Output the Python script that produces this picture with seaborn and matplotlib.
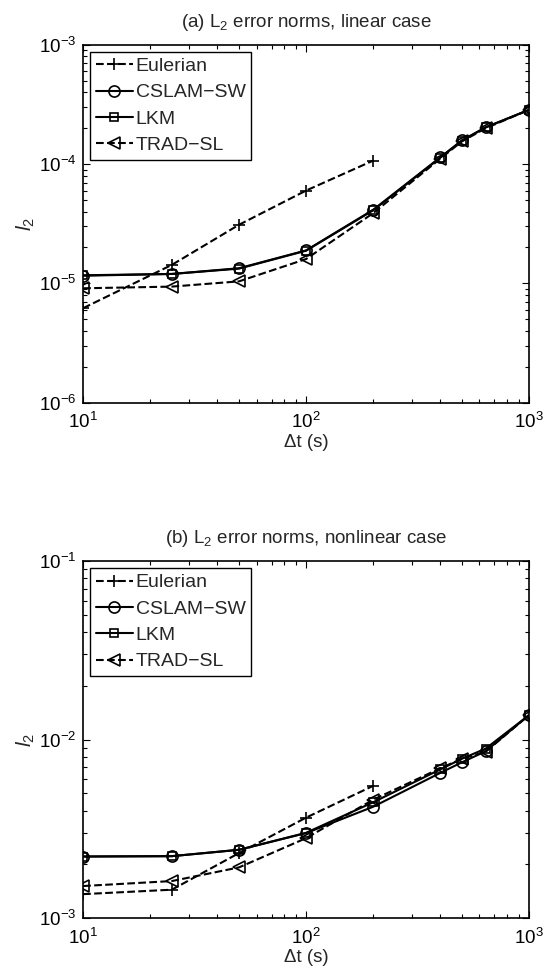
import matplotlib
matplotlib.use("Agg")
import matplotlib.pyplot as plt
from matplotlib.ticker import LogLocator, NullFormatter
import numpy as np
import seaborn as sns

# time steps (s)
dt_euler = [10, 25, 50, 100, 200]
dt_all = [10, 25, 50, 100, 200, 400, 500, 640, 1000]

# (a) linear case, l2 errors
lin_euler = [6.2e-6, 1.43e-5, 3.1e-5, 6.0e-5, 1.07e-4]
lin_cslam = [1.16e-5, 1.2e-5, 1.34e-5, 1.89e-5, 4.14e-5, 1.14e-4, 1.58e-4, 2.04e-4, 2.85e-4]
lin_lkm = [1.17e-5, 1.2e-5, 1.33e-5, 1.88e-5, 4.1e-5, 1.13e-4, 1.57e-4, 2.03e-4, 2.85e-4]
lin_trad = [9.1e-6, 9.4e-6, 1.04e-5, 1.6e-5, 3.88e-5, 1.11e-4, 1.55e-4, 2.0e-4, 2.85e-4]

# (b) nonlinear case, l2 errors
nl_euler = [1.36e-3, 1.44e-3, 2.31e-3, 3.65e-3, 5.5e-3]
nl_cslam = [2.21e-3, 2.22e-3, 2.41e-3, 2.99e-3, 4.2e-3, 6.5e-3, 7.45e-3, 8.6e-3, 1.37e-2]
nl_lkm = [2.21e-3, 2.22e-3, 2.41e-3, 3.0e-3, 4.45e-3, 6.8e-3, 7.8e-3, 8.9e-3, 1.37e-2]
nl_trad = [1.51e-3, 1.61e-3, 1.92e-3, 2.8e-3, 4.6e-3, 6.9e-3, 7.8e-3, 8.55e-3, 1.37e-2]

labels = ["Eulerian", "CSLAM\u2212SW", "LKM", "TRAD\u2212SL"]
markers = ["+", "o", "s", "<"]
styles = ["--", "-", "-", "--"]

sns.set_style("ticks")
plt.rcParams["font.family"] = ["Liberation Sans", "DejaVu Sans"]
plt.rcParams["mathtext.fontset"] = "custom"
plt.rcParams["mathtext.rm"] = "Liberation Sans"
plt.rcParams["mathtext.it"] = "Liberation Sans:italic"

fig = plt.figure(figsize=(5.47, 9.75), dpi=100)
ax1 = fig.add_axes([0.152, 0.587, 0.815, 0.367])
ax2 = fig.add_axes([0.152, 0.0585, 0.815, 0.366])


def draw(ax, series, ylim, title):
    xs = [dt_euler, dt_all, dt_all, dt_all]
    for x, y, lab, m, ls in zip(xs, series, labels, markers, styles):
        sns.lineplot(x=x, y=y, ax=ax, color="k", linestyle=ls, marker=m,
                     markersize=8 if m != "s" else 6, mfc="none", mec="k",
                     mew=1.2, lw=1.5, label=lab)
    ax.set_xscale("log")
    ax.set_yscale("log")
    ax.set_xlim(10, 1000)
    ax.set_ylim(*ylim)
    ax.xaxis.set_major_locator(LogLocator(base=10, numticks=10))
    ax.yaxis.set_major_locator(LogLocator(base=10, numticks=10))
    ax.xaxis.set_minor_locator(LogLocator(base=10, subs=np.arange(2, 10), numticks=20))
    ax.yaxis.set_minor_locator(LogLocator(base=10, subs=np.arange(2, 10), numticks=20))
    ax.xaxis.set_minor_formatter(NullFormatter())
    ax.yaxis.set_minor_formatter(NullFormatter())
    ax.tick_params(which="both", direction="in", top=True, right=True,
                   labelsize=13.5, width=0.8, colors="k")
    ax.tick_params(which="major", length=5, pad=5)
    ax.tick_params(which="minor", length=3)
    ax.tick_params(axis="x", which="major", pad=7)
    for sp in ax.spines.values():
        sp.set_linewidth(1.2)
        sp.set_color("k")
    ax.set_xlabel("\u0394t (s)", fontsize=13.5, labelpad=1)
    ax.set_ylabel(r"$\mathit{l}_2$", fontsize=15, labelpad=1)
    ax.set_title(title, fontsize=13.5, pad=13)
    leg = ax.legend(loc="upper left", fontsize=14, handlelength=1.9,
                    handletextpad=0.15, borderpad=0.3, labelspacing=0.45,
                    borderaxespad=0.35, fancybox=False, framealpha=1)
    leg.get_frame().set_edgecolor("k")
    leg.get_frame().set_linewidth(1.0)


draw(ax1, [lin_euler, lin_cslam, lin_lkm, lin_trad], (1e-6, 1e-3),
     r"(a) L$_2$ error norms, linear case")
draw(ax2, [nl_euler, nl_cslam, nl_lkm, nl_trad], (1e-3, 1e-1),
     r"(b) L$_2$ error norms, nonlinear case")

fig.savefig("out.png", dpi=100)
